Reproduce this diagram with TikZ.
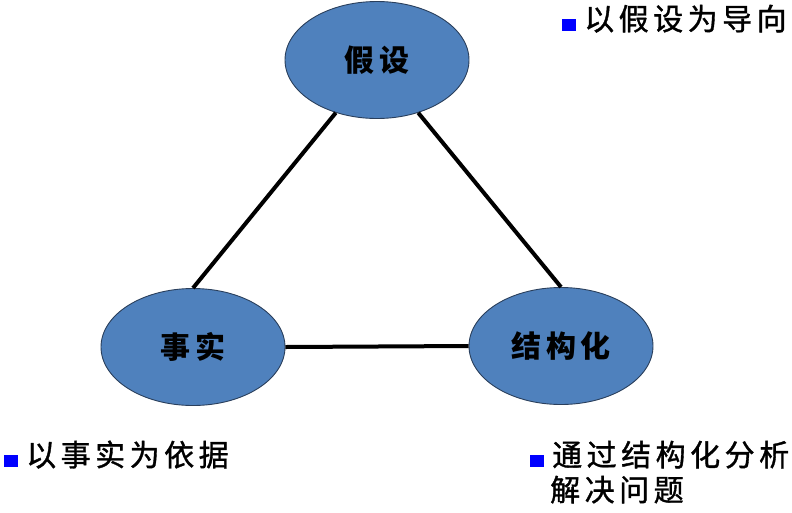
\documentclass[tikz,border=0pt]{standalone}
\usepackage{fontspec}
\newfontfamily\cjk[LetterSpace=15]{Noto Sans CJK SC}
\newfontfamily\cjkm[LetterSpace=15,FakeBold=1.2]{Noto Sans CJK SC}
\usetikzlibrary{shapes.geometric}
\definecolor{ideafill}{HTML}{4F81BD}
\definecolor{ideaedge}{HTML}{2A3F5C}

\begin{document}
\begin{tikzpicture}[x=1pt,y=-1pt,
  idea/.style={ellipse, draw=ideaedge, line width=0.9pt, fill=ideafill,
    minimum width=184pt, minimum height=117pt, inner sep=0pt,
    font=\cjk\bfseries\fontsize{30}{30}\selectfont},
  link/.style={black, line width=4pt},
  note/.style={anchor=base west, inner sep=0pt, align=left,
    font=\cjkm\fontsize{30}{35}\selectfont}]
                      \useasboundingbox (0,0) rectangle (792,512);

                      % Ellipses
                      \node[idea] (jiashe) at (377,60) {假设};
                      \node[idea] (shishi) at (193,347) {事实};
                      \node[idea] (jiegou) at (561,346) {结构化};

                  % Links
                  \draw[link] (jiashe.232) -- (shishi.north);
                  \draw[link] (jiashe.308) -- (jiegou.north);
                  \draw[link] (shishi.east) -- (jiegou.west);

                      % Notes
                      \newcommand{\squarebullet}{{\color{blue}\rule[-0.5pt]{14pt}{12pt}}\hspace{8pt}}
                      \node[note] (daoxiang) at (562,30) {\squarebullet 以假设为导向};
                      \node[note] (yiju) at (4,466) {\squarebullet 以事实为依据};
                      \node[note] (fenxi) at (530,501) {\squarebullet 通过结构化分析\\\hspace{20pt}解决问题};
                    \end{tikzpicture}
\end{document}
